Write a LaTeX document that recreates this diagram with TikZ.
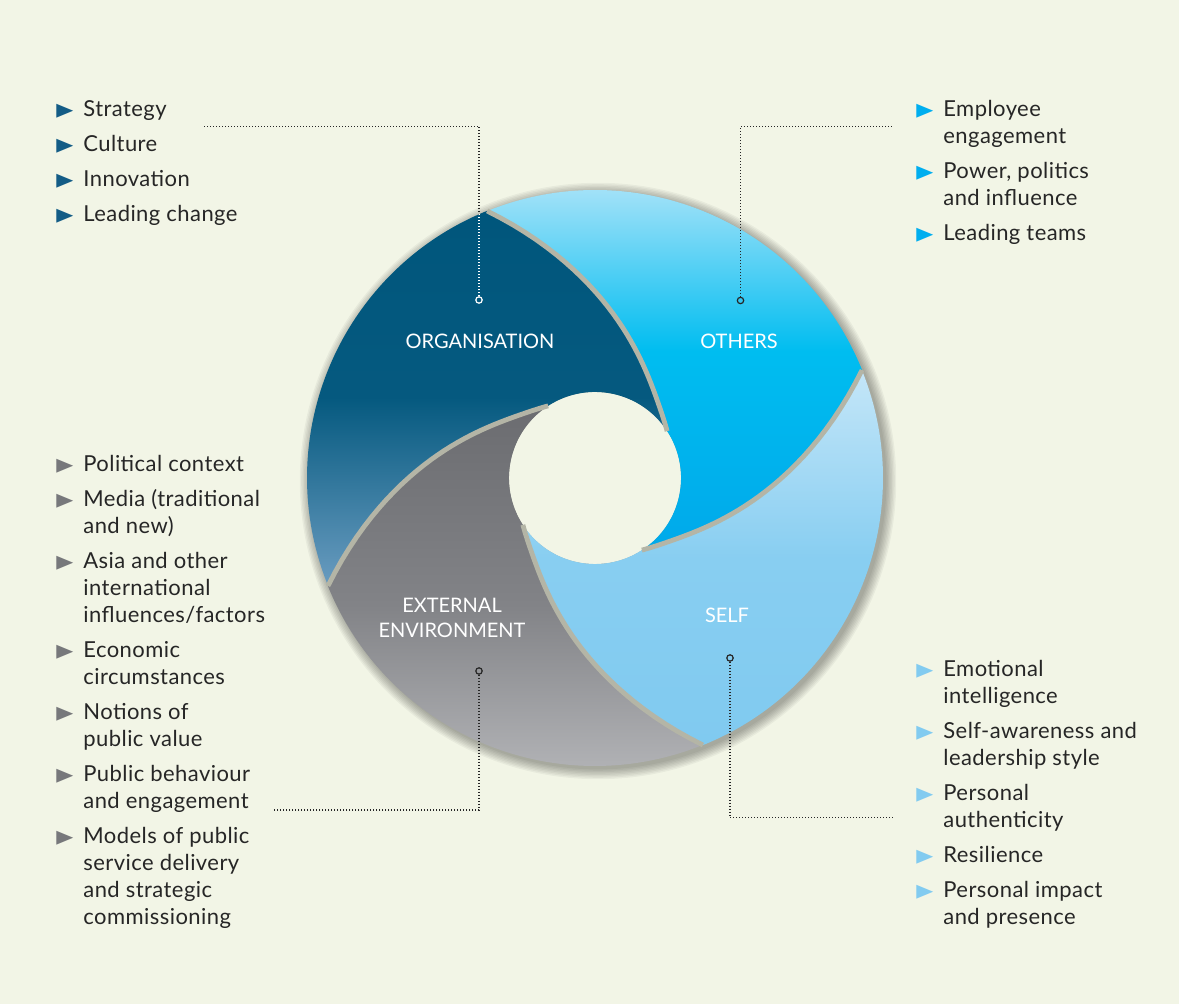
\documentclass[tikz,border=0pt]{standalone}
\usepackage{graphicx}
\usepackage{fontspec}
\setmainfont{Lato}
\newfontfamily\symfont{DejaVu Sans}
\usetikzlibrary{positioning}

\definecolor{paper}{HTML}{F2F5E6}
\definecolor{ink}{HTML}{262626}
\definecolor{seamgray}{HTML}{B4B5A6}
\definecolor{orgtop}{HTML}{00567C}
\definecolor{orgbot}{HTML}{6A9CC0}
\definecolor{othtop}{HTML}{C8EAFA}
\definecolor{othmid}{HTML}{00BDF0}
\definecolor{othbot}{HTML}{00A9EA}
\definecolor{selftop}{HTML}{C4E6F8}
\definecolor{selfbot}{HTML}{80CAF0}
\definecolor{selfmid}{HTML}{88CEF1}
\definecolor{exttop}{HTML}{6B6C70}
\definecolor{extmid}{HTML}{828387}
\definecolor{extbot}{HTML}{BBBCBF}
\definecolor{markorg}{HTML}{135C86}
\definecolor{markoth}{HTML}{00AEEF}
\definecolor{markext}{HTML}{77787B}
\definecolor{markself}{HTML}{82CBF0}

\newcommand\listfont{\fontsize{11}{13.5}\selectfont\addfontfeature{LetterSpace=2}}
\newcommand\capsfont{\fontsize{10}{12.5}\selectfont}
\newcommand\listmark[1]{\makebox[13.5pt][l]{\raisebox{-1.1pt}{\textcolor{#1}{\scalebox{1.3}[1.65]{\fontsize{8.5}{8.5}\symfont ►}}}}}

% one arm of the swirl, #1 = turn in degrees
\newcommand\armpath[1]{%
  plot[domain=0:1, samples=40, variable=\t] ({#1+112-79*\t}:{86+202*(0.2*(1-\t)+0.8*(1-\t)^2.5)})
  arc[start angle=#1+33, end angle=#1+123, radius=86]
  -- plot[domain=0:1, samples=40, variable=\t] ({#1+123+79*\t}:{86+202*(0.2*\t+0.8*\t^2.5)})
  arc[start angle=#1+202, end angle=#1+112, radius=288] -- cycle}

\begin{document}
\begin{tikzpicture}[
        x = 0.5pt, y = 0.5pt,
        entries/.style = {
            anchor = north west,
            inner sep = 0pt,
            text = ink,
            font = \listfont
        },
        seglabel/.style = {text = white, font = \capsfont, align = center, inner sep = 0pt},
        dot/.style = {draw = ink, circle, minimum size = 3.2pt, inner sep = 0pt, line width = 0.6pt},
        leader/.style = {draw = ink, line width = 0.55pt, dash pattern = on 0.55pt off 0.95pt},
        seam/.style = {draw = seamgray, line width = 2.4pt}
    ]
    \fill[paper] (0,0) rectangle (1179,-1004);
    \useasboundingbox (0,0) rectangle (1179,-1004);

    % the swirl
    \begin{scope}[shift = {(595,-478)}]
        \foreach \i in {1,...,8}
            \fill[black, opacity = 0.045] (3,-3) circle (287+1.4*\i);
        \fill[paper] (0,0) circle (86);
        \shade[top color = orgtop, bottom color = orgbot, middle color = orgtop!95!orgbot] \armpath{0};
        \shade[top color = othtop, bottom color = othbot, middle color = othmid] \armpath{-90};
        \shade[top color = selftop, bottom color = selfbot, middle color = selfmid] \armpath{-180};
        \shade[top color = exttop, bottom color = extbot, middle color = extmid] \armpath{-270};
        \foreach \a in {0,-90,-180,-270}
            \draw[seam] plot[domain=0:1, samples=40, variable=\t] ({\a+112-79*\t}:{86+202*(0.2*(1-\t)+0.8*(1-\t)^2.5)});
    \end{scope}

    \node[seglabel] (orglabel) at (480,-341) {ORGANISATION};
    \node[seglabel] (othlabel) at (739,-341) {OTHERS};
    \node[seglabel] (selflabel) at (727,-615) {SELF};
    \node[seglabel] (extlabel) at (452,-618) {EXTERNAL\\ENVIRONMENT};

    % markers and leaders
    \node[dot, draw = white] (orgdot) at (479,-300) {};
    \node[dot] (othdot) at (740.5,-300.5) {};
    \node[dot] (extdot) at (479,-671) {};
    \node[dot] (selfdot) at (730,-658) {};

    \coordinate (orgbend) at (479,-126.5);
    \coordinate (orgend) at (204,-126.5);
    \coordinate (othbend) at (740.5,-126.5);
    \coordinate (othend) at (894,-126.5);
    \coordinate (extbend) at (479,-810);
    \coordinate (extend) at (273,-810);
    \coordinate (selfbend) at (730,-817.5);
    \coordinate (selfend) at (894,-817.5);

    \draw[leader] (orgdot) -- (orgbend) -- (orgend);
    \draw[leader] (othdot) -- (othbend) -- (othend);
    \draw[leader] (extdot) -- (extbend) -- (extend);
    \draw[leader] (selfdot) -- (selfbend) -- (selfend);
    \begin{scope}
        \clip[shift = {(595,-478)}] \armpath{0};
        \draw[leader, draw = white] (orgdot) -- (orgbend);
    \end{scope}

    % the four lists
    \node[entries] (orglist) at (56,-97) {\begin{tabular}{@{}l@{}l@{}}
        \listmark{markorg} & Strategy\\[4pt]
        \listmark{markorg} & Culture\\[4pt]
        \listmark{markorg} & Innovation\\[4pt]
        \listmark{markorg} & Leading change
    \end{tabular}};
    \node[entries] (othlist) at (916,-97) {\begin{tabular}{@{}l@{}l@{}}
        \listmark{markoth} & Employee\\ & engagement\\[4pt]
        \listmark{markoth} & Power, politics\\ & and influence\\[4pt]
        \listmark{markoth} & Leading teams
    \end{tabular}};
    \node[entries] (extlist) at (56,-452) {\begin{tabular}{@{}l@{}l@{}}
        \listmark{markext} & Political context\\[4pt]
        \listmark{markext} & Media (traditional\\ & and new)\\[4pt]
        \listmark{markext} & Asia and other\\ & international\\ & influences/factors\\[4pt]
        \listmark{markext} & Economic\\ & circumstances\\[4pt]
        \listmark{markext} & Notions of\\ & public value\\[4pt]
        \listmark{markext} & Public behaviour\\ & and engagement\\[4pt]
        \listmark{markext} & Models of public\\ & service delivery\\ & and strategic\\ & commissioning
    \end{tabular}};
    \node[entries] (selflist) at (916,-657) {\begin{tabular}{@{}l@{}l@{}}
        \listmark{markself} & Emotional\\ & intelligence\\[4pt]
        \listmark{markself} & Self-awareness and\\ & leadership style\\[4pt]
        \listmark{markself} & Personal\\ & authenticity\\[4pt]
        \listmark{markself} & Resilience\\[4pt]
        \listmark{markself} & Personal impact\\ & and presence
    \end{tabular}};
\end{tikzpicture}
\end{document}
